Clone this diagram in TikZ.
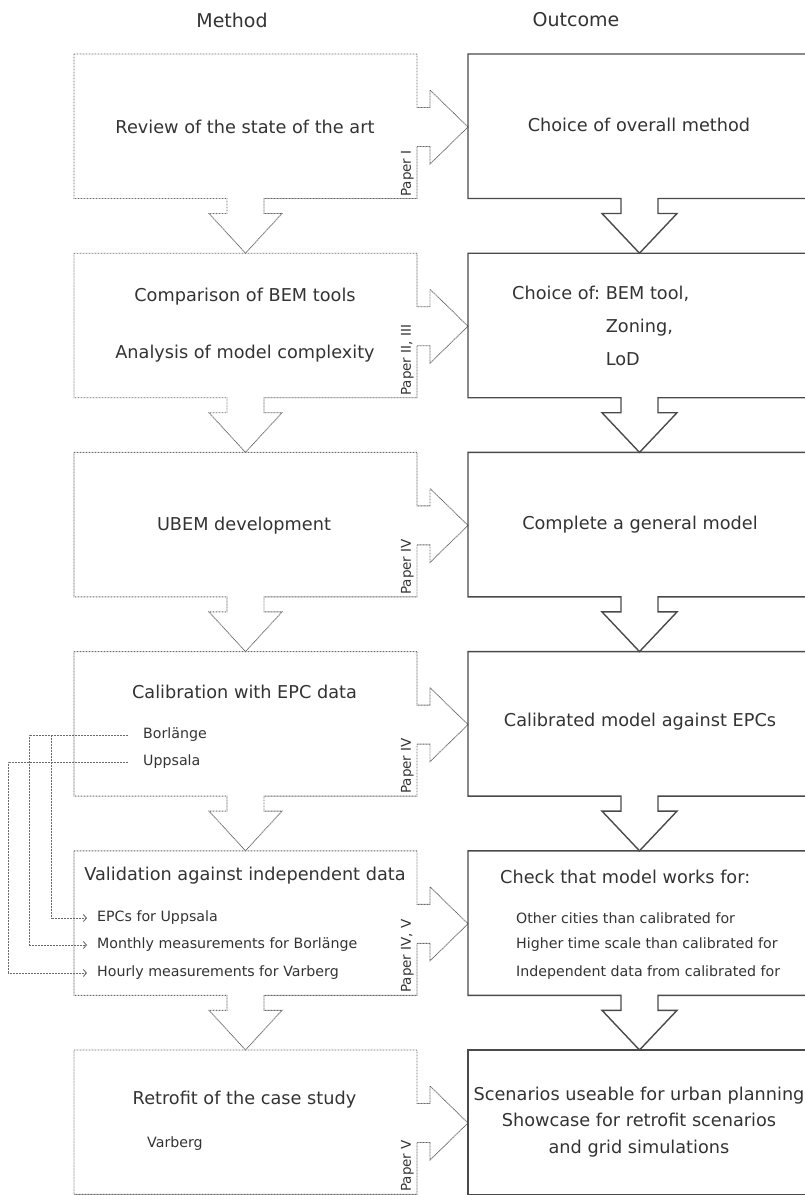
\documentclass[tikz,border=0pt]{standalone}
\usepackage{fontspec}
\setmainfont{DejaVu Sans}
\usetikzlibrary{arrows.meta}
\definecolor{ink}{HTML}{333333}
\definecolor{dotc}{HTML}{6A6A6A}
\definecolor{solidc}{HTML}{4A4A4A}
\tikzset{
  dotline/.style={draw=dotc, line width=0.9pt, dash pattern=on 0.9pt off 0.6pt},
  solidline/.style={draw=solidc, line width=1.4pt, line join=miter},
  maintext/.style={font=\fontsize{17.7}{21}\selectfont, text=ink, inner sep=0pt},
  smalltext/.style={font=\fontsize{14.2}{17}\selectfont, text=ink, inner sep=0pt, anchor=west},
  headtext/.style={font=\fontsize{19}{23}\selectfont, text=ink, inner sep=0pt},
  papertext/.style={font=\fontsize{13.5}{15}\selectfont, text=ink, inner sep=0pt, rotate=90, anchor=south west},
  conn/.style={dotline, -{Straight Barb[length=3pt,width=7pt]}},
}
\begin{document}
\begin{tikzpicture}[x=1pt,y=-1pt]
\useasboundingbox (0,0) rectangle (805,1195);
\clip (0,0) rectangle (805,1195);
% boxes of rows 1-5 (with down arrows)
\foreach \i in {0,...,4}{
  \pgfmathsetmacro\T{54+199.2*\i}
  \pgfmathsetmacro\B{\T+144.5}
  \pgfmathsetmacro\Y{\T+73}
  \pgfmathsetmacro\N{\T+199.2}
  \draw[dotline] (74,\T) -- (417,\T) -- (417,\Y-19.5) -- (430,\Y-19.5) -- (430,\Y-37) -- (468,\Y)
     -- (430,\Y+37) -- (430,\Y+19.5) -- (417,\Y+19.5) -- (417,\B) -- (264,\B) -- (264,\B+15)
     -- (282,\B+15) -- (245.5,\N) -- (209,\B+15) -- (227,\B+15) -- (227,\B) -- (74,\B) -- cycle;
  \draw[solidline] (468,\T) -- (812,\T) -- (812,\B) -- (658,\B) -- (658,\B+15) -- (677,\B+15)
     -- (639.5,\N) -- (602,\B+15) -- (621,\B+15) -- (621,\B) -- (468,\B) -- cycle;
}
% last row
\draw[dotline] (74,1050) -- (417,1050) -- (417,1103.5) -- (430,1103.5) -- (430,1086) -- (468,1123)
   -- (430,1160) -- (430,1142.5) -- (417,1142.5) -- (417,1194.3) -- (74,1194.3) -- cycle;
\draw[solidline] (468,1050) -- (812,1050) -- (812,1194.3) -- (468,1194.3) -- cycle;

% headers
\node[headtext] (hm) at (232,20) {Method};
\node[headtext] (ho) at (576,20) {Outcome};

% row 1
\node[maintext] (m1) at (245,127) {Review of the state of the art};
\node[maintext] (o1) at (639,125) {Choice of overall method};
\node[papertext] (p1) at (414,197) {Paper I};

% row 2
\node[maintext] (m2a) at (245,297) {Comparison of BEM tools};
\node[maintext] (m2b) at (245,354) {Analysis of model complexity};
\node[maintext, anchor=west, font=\fontsize{17.7}{33}\selectfont] (o2) at (512,326)
  {\begin{tabular}{@{}l@{}l@{}}Choice of:~ & BEM tool,\\ & Zoning,\\ & LoD\end{tabular}};
\node[papertext] (p2) at (414,396) {Paper II, III};

% row 3
\node[maintext] (m3) at (244,526) {UBEM development};
\node[maintext] (o3) at (640,525) {Complete a general model};
\node[papertext] (p3) at (414,595) {Paper IV};

% row 4
\node[maintext] (m4) at (244.5,692) {Calibration with EPC data};
\node[smalltext] (borl) at (143,735) {Borlänge};
\node[smalltext] (upps) at (143,762) {Uppsala};
\node[maintext] (o4) at (640,722) {Calibrated model against EPCs};
\node[papertext] (p4) at (414,794) {Paper IV};

% row 5
\node[maintext] (m5) at (245,876) {Validation against independent data};
\node[smalltext] (epcu) at (97,918) {EPCs for Uppsala};
\node[smalltext] (mont) at (97,945) {Monthly measurements for Borlänge};
\node[smalltext] (hour) at (97,973) {Hourly measurements for Varberg};
\node[maintext, anchor=west] (o5) at (500,877) {Check that model works for:};
\node[smalltext] (o5a) at (516,918) {Other cities than calibrated for};
\node[smalltext] (o5b) at (516,945) {Higher time scale than calibrated for};
\node[smalltext] (o5c) at (516,973) {Independent data from calibrated for};
\node[papertext] (p5) at (414,993) {Paper IV, V};

% row 6
\node[maintext] (m6) at (244.5,1100) {Retrofit of the case study};
\node[smalltext] (varb) at (147,1144) {Varberg};
\node[maintext, align=center, font=\fontsize{17.7}{26.5}\selectfont] (o6) at (639,1122)
  {Scenarios useable for urban planning\\Showcase for retrofit scenarios\\and grid simulations};
\node[papertext] (p6) at (414,1192) {Paper V};

% connectors
\coordinate (xa) at (29,0);
\coordinate (xb) at (51,0);
\coordinate (xc) at (8,0);
\draw[conn] ([xshift=-15pt]borl.west) -- (borl.west -| xb) -- (epcu.west -| xb) -- ([xshift=-10pt]epcu.west);
\draw[conn] ([xshift=-15pt]borl.west) -- (borl.west -| xa) -- (mont.west -| xa) -- ([xshift=-10pt]mont.west);
\draw[conn] ([xshift=-15pt]upps.west) -- (upps.west -| xc) -- (hour.west -| xc) -- ([xshift=-10pt]hour.west);
\end{tikzpicture}
\end{document}
